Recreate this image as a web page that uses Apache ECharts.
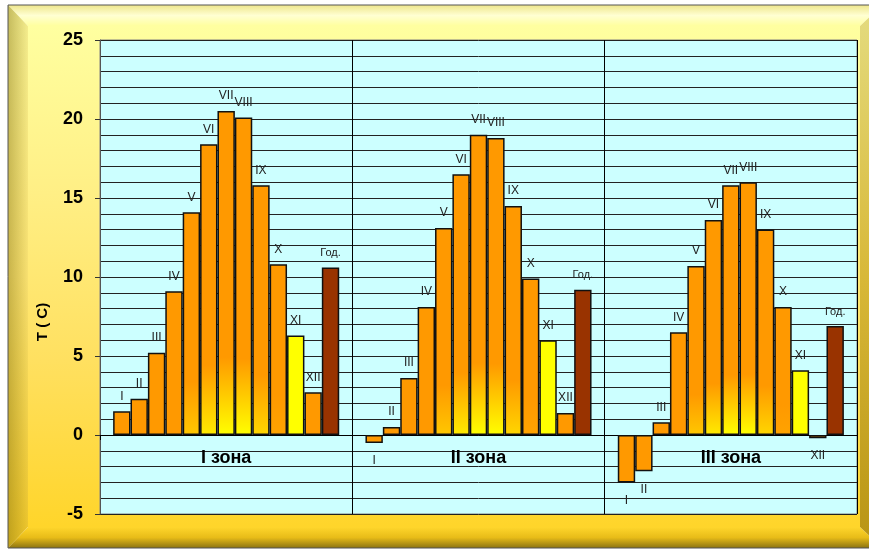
<!DOCTYPE html>
<html><head><meta charset="utf-8">
<script src="https://cdn.jsdelivr.net/npm/echarts@6/dist/echarts.min.js"></script>
<style>html,body{margin:0;padding:0;background:#fff}#c{width:869px;height:550px}</style>
</head><body><div id="c"></div>
<script>
// ---- data ----
const zones = ['I зона', 'II зона', 'III зона'];
const months = ['I','II','III','IV','V','VI','VII','VIII','IX','X','XI','XII','Год.'];
const zone1 = [1.5, 2.3, 5.2, 9.1, 14.1, 18.4, 20.5, 20.1, 15.8, 10.8, 6.3, 2.7, 10.6];
const zone2 = [-0.5, 0.5, 3.6, 8.1, 13.1, 16.5, 19.0, 18.8, 14.5, 9.9, 6.0, 1.4, 9.2];
const zone3 = [-3.0, -2.3, 0.8, 6.5, 10.7, 13.6, 15.8, 16.0, 13.0, 8.1, 4.1, -0.2, 6.9];
const yMin = -5, yMax = 25, yStep = 5;

// ---- style ----
const baseColor = ['#FF9900','#FF9900','#FF9900','#FF9900','#FF9900','#FF9900','#FF9900','#FF9900','#FF9900','#FF9900','#FFFF00','#FF9900','#993300'];
const glow = [0,0,0,0,0.45,0.8,1,1,0.6,0.1,0,0,0];
const FONT = '"Liberation Sans", Arial, sans-serif';
const GRID = { left: 100, top: 40, right: 12, bottom: 36 };
const plotH = 550 - GRID.top - GRID.bottom;
// zone labels sit just under the zero line (as in the original)
const zeroFromBottom = plotH * (0 - yMin) / (yMax - yMin);

function fillFor(i, v) {
  if (!glow[i] || v <= 0) return baseColor[i];
  const g = Math.round(153 + 102 * glow[i]);
  return new echarts.graphic.LinearGradient(0, 0, 0, 1, [
    { offset: 0, color: baseColor[i] },
    { offset: 0.76, color: baseColor[i] },
    { offset: 1, color: 'rgb(255,' + g + ',0)' }
  ]);
}

const zoneData = [zone1, zone2, zone3];
const series = months.map((m, i) => ({
  name: m,
  type: 'bar',
  barGap: '0%',
  barCategoryGap: '10.4%',
  data: zoneData.map(z => ({
    value: z[i],
    itemStyle: { color: fillFor(i, z[i]) },
    label: z[i] < 0 ? { position: 'bottom', distance: 12 } : { position: 'top', distance: 9 }
  })),
  itemStyle: { borderColor: '#111', borderWidth: 1.5 },
  label: {
    show: true,
    formatter: m,
    color: '#222',
    fontFamily: FONT,
    fontSize: i === 12 ? 11 : 12
  },
  animation: false
}));

// ---- frame background ----
const L = 8, T = 5, R = 882, B = 548, l = 28, t = 26, r = 860, b = 527;
function vgrad(stops) { return new echarts.graphic.LinearGradient(0, 0, 0, 1, stops.map((c, k) => ({ offset: k / (stops.length - 1), color: c }))); }
function hgrad(stops) { return new echarts.graphic.LinearGradient(0, 0, 1, 0, stops.map((c, k) => ({ offset: k / (stops.length - 1), color: c }))); }
const graphics = [
  { type: 'rect', shape: { x: l, y: t, width: r - l, height: b - t }, style: { fill: vgrad(['#FFFFA0', '#FFEF85', '#FFE060', '#FFD52A']) } },
  { type: 'polygon', shape: { points: [[L, T], [R, T], [r, t], [l, t]] }, style: { fill: vgrad(['#EEE68C', '#FFFFD2', '#FFFF9E']) } },
  { type: 'polygon', shape: { points: [[L, T], [l, t], [l, b], [L, B]] }, style: { fill: vgrad(['#F4EE90', '#F8E070', '#ECC428']) } },
  { type: 'polygon', shape: { points: [[L, T], [l, t], [l, b], [L, B]] }, style: { fill: hgrad(['rgba(110,95,0,0.35)', 'rgba(110,95,0,0)']) } },
  { type: 'polygon', shape: { points: [[L, B], [l, b], [r, b], [R, B]] }, style: { fill: vgrad(['#FFD62C', '#E8BC18', '#8C7412']) } },
  { type: 'polygon', shape: { points: [[R, T], [R, B], [r, b], [r, t]] }, style: { fill: vgrad(['#E4DC80', '#D8B838', '#B89414']) } },
  { type: 'rect', shape: { x: L, y: T, width: R - L, height: B - T }, style: { fill: null, stroke: '#555', lineWidth: 1 } }
].map(e => Object.assign(e, { z: -100, silent: true }));

const chart = echarts.init(document.getElementById('c'), null, { renderer: 'canvas' });
chart.setOption({
  animation: false,
  graphic: { elements: graphics },
  grid: Object.assign({ show: true, backgroundColor: '#CCFFFF', borderColor: '#808080', borderWidth: 1 }, GRID),
  xAxis: {
    type: 'category',
    data: zones,
    axisLine: { onZero: true, lineStyle: { color: '#000', width: 1 } },
    axisTick: { show: true, length: 5, interval: 0, lineStyle: { color: '#000' } },
    axisLabel: { margin: 14 - zeroFromBottom, color: '#000', fontWeight: 'bold', fontSize: 18, fontFamily: FONT },
    splitLine: { show: true, interval: 0, lineStyle: { color: '#000', width: 1 } }
  },
  yAxis: {
    type: 'value',
    min: yMin, max: yMax, interval: yStep,
    name: 'T ( C)',
    nameLocation: 'middle',
    nameGap: 50,
    nameRotate: 90,
    nameTextStyle: { color: '#000', fontWeight: 'bold', fontSize: 15, fontFamily: FONT, padding: [0, 90, 0, 0] },
    axisLine: { show: true, lineStyle: { color: '#555', width: 1 } },
    axisTick: { show: true, length: 5, lineStyle: { color: '#333' } },
    axisLabel: { margin: 17, color: '#000', fontWeight: 'bold', fontSize: 18, fontFamily: FONT },
    splitLine: { show: true, lineStyle: { color: '#222', width: 1 } },
    minorTick: { show: false, splitNumber: 5 },
    minorSplitLine: { show: true, lineStyle: { color: '#222', width: 1 } }
  },
  series: series
});
</script>
</body></html>
